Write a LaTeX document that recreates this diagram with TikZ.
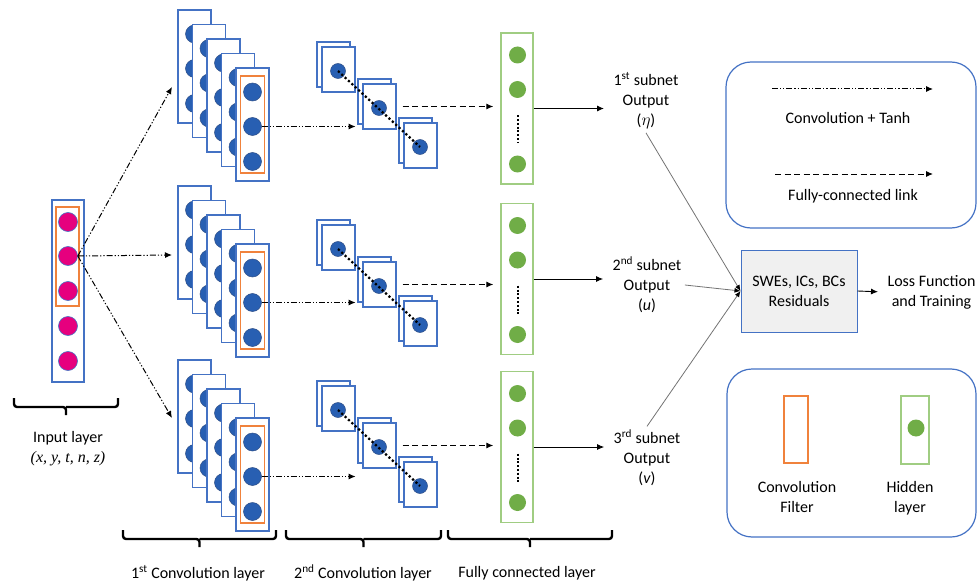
\documentclass[tikz,border=0pt]{standalone}
\usepackage{fontspec}
\setmainfont{Carlito}
\newfontfamily\varfont{Liberation Serif}
\usepackage{tikz}
\usetikzlibrary{positioning,arrows.meta}
\definecolor{rimBlue}{RGB}{68,114,196}
\definecolor{cellBlue}{RGB}{40,95,178}
\definecolor{filterOrange}{RGB}{240,130,60}
\definecolor{hiddenGreen}{RGB}{112,173,71}
\definecolor{hiddenRim}{RGB}{160,205,130}
\definecolor{inputPink}{RGB}{230,0,126}
\definecolor{residualGray}{RGB}{240,240,240}
\tikzset{
		mapBox/.style =      {rectangle,draw=rimBlue,fill=white,line width=1.2pt,inner sep=0pt,minimum width=33pt,minimum height=113pt},
		mapCell/.style =     {circle,draw=rimBlue!70!black,fill=cellBlue,line width=0.5pt,inner sep=0pt,minimum size=18pt},
		filterBox/.style =   {rectangle,draw=filterOrange,line width=1.2pt,inner sep=0pt,minimum width=24pt,minimum height=97pt},
		inputBox/.style =    {rectangle,draw=rimBlue,line width=1.2pt,inner sep=0pt,minimum width=32pt,minimum height=182pt},
		inputCell/.style =   {circle,draw=rimBlue,fill=inputPink,line width=0.6pt,inner sep=0pt,minimum size=19pt},
		hiddenBox/.style =   {rectangle,draw=hiddenRim,line width=1.4pt,inner sep=0pt,minimum width=32pt,minimum height=151pt},
		hiddenCell/.style =  {circle,fill=hiddenGreen,inner sep=0pt,minimum size=17pt},
		residualBox/.style = {rectangle,draw=rimBlue,fill=residualGray,line width=1pt,minimum width=116pt,minimum height=82pt},
		legendBox/.style =   {rectangle,draw=rimBlue,line width=1.2pt,rounded corners=25pt},
		convLink/.style =    {line width=1pt,dash pattern=on 6pt off 2pt on 1.2pt off 2pt on 1.2pt off 2pt,-{Latex[length=7pt,width=6pt]}},
		fcLink/.style =      {line width=1pt,dash pattern=on 6pt off 3.5pt,-{Latex[length=7pt,width=6pt]}},
		outLink/.style =     {line width=0.9pt,-{Latex[length=7pt,width=6pt]}},
		sumLink/.style =     {line width=0.8pt,draw=black!55,-{Latex[length=6pt,width=5pt,color=black]}},
		chainDots/.style =   {line width=2.2pt,dash pattern=on 2.2pt off 2.4pt},
		columnDots/.style =  {line width=2pt,dash pattern=on 2pt off 1.8pt},
		brace/.style =       {line width=2.4pt,rounded corners=3pt},
		node distance=2.3cm
}

\begin{document}
\begin{tikzpicture}[x=1pt,y=-1pt,font=\fontsize{16}{20}\selectfont,every node/.append style={align=center}]
  \useasboundingbox (0,0) rectangle (977,583);

  % Draw input layer
  \node [inputBox] (inp) at (68,291) {};
  \node [filterBox, minimum width=23pt, minimum height=99pt] (inpf) at (67.5,256.5) {};
  \foreach \y [count=\i] in {222,256,291,326,361}
    \node [inputCell] (in\i) at (68,\y) {};

  % Draw first convolution layer, one stack per subnet
  \foreach \r/\top in {1/10, 2/186, 3/360}
  {
    \foreach \k in {0,...,4}
    {
      \pgfmathsetmacro{\xk}{178+14.5*\k}
      \pgfmathsetmacro{\yk}{\top+14.5*\k}
      \node [mapBox] (m\r\k) at (\xk+16.5,\yk+56.5) {};
      \foreach \j/\dy in {1/24, 2/58.5, 3/93.5}
        \node [mapCell] (m\r\k\j) at (\xk+16.5,\yk+\dy) {};
    }
    \node [filterBox] (flt\r) at (m\r4) {};
  }

  % Draw second convolution layer (three pairs of sheets)
  \foreach \r/\cy in {1/71, 2/249, 3/410}
  {
    \foreach \k/\dx/\dy in {1/0/0, 2/41/37, 3/82/76}
    {
      \node [mapBox, minimum height=45pt] (b\r\k) at (333.5+\dx,\cy-6.5+\dy) {};
      \node [mapBox, minimum height=45pt] (q\r\k) at (338.5+\dx,\cy-1.5+\dy) {};
      \node [mapCell, minimum size=15pt] (p\r\k) at (338+\dx,\cy+\dy) {};
    }
    \draw [chainDots] (p\r1.center) -- (p\r3.center);
  }

  % Draw fully connected layers
  \foreach \r/\cy in {1/108.5, 2/279, 3/447}
  {
    \node [hiddenBox] (f\r) at (517,\cy) {};
    \foreach \j/\dy in {1/-53.5, 2/-19, 3/55.5}
      \node [hiddenCell] (h\r\j) at (517.5,\cy+\dy) {};
    \draw [columnDots] ([yshift=-17pt]h\r2.south) -- ([yshift=12pt]h\r3.north);
  }

  % Subnet outputs and residual block
  \node (o1) at (646,101) {1\textsuperscript{st} subnet\\Output\\($\eta$)};
  \node (o2) at (647,285) {2\textsuperscript{nd} subnet\\Output\\(\textit{u})};
  \node (o3) at (647,458) {3\textsuperscript{rd} subnet\\Output\\(\textit{v})};
  \node [residualBox] (swe) at (799,291) {SWEs, ICs, BCs\\Residuals};
  \node [anchor=west] (loss) at (884,292) {Loss Function\\and Training};

  % Links between the layers
  \coordinate (t1) at (172,87);
  \coordinate (t2) at (172,255);
  \coordinate (t3) at (172,418);
  \foreach \r in {1,2,3}
  {
    \draw [convLink] (in2.east) -- (t\r);
    \draw [convLink] (m\r42.east) -- (m\r42.east -| q\r1.east);
    \draw [fcLink, shorten <=6pt, shorten >=7pt] (q\r2.east) -- (q\r2.east -| f\r.west);
    \draw [outLink, shorten >=6pt] (f\r.east) -- (f\r.east -| o\r.west);
  }
  \draw [sumLink] (o1.south) -- (swe.west);
  \draw [sumLink] (o2.east) -- (swe.west);
  \draw [sumLink] (o3.north) -- (swe.west);
  \draw [outLink, shorten >=6pt] (swe.east) -- (loss.west);

  % Legend boxes
  \node [legendBox, minimum width=250pt, minimum height=166pt] (leg1) at (851,145) {};
  \coordinate (ca) at (772,89);
  \coordinate (cb) at (933,89);
  \draw [convLink] (ca) -- (cb);
  \node (lgc) at (848,118) {Convolution + Tanh};
  \coordinate (fa) at (775,174);
  \coordinate (fb) at (933,174);
  \draw [fcLink] (fa) -- (fb);
  \node (lgl) at (853,196) {Fully-connected link};

  \node [legendBox, minimum width=249pt, minimum height=168pt] (leg2) at (851.5,453) {};
  \node [filterBox, minimum height=67pt] (lgf) at (796,429.5) {};
  \node [hiddenBox, minimum width=28pt, minimum height=68pt] (lgh) at (915,430) {};
  \node [hiddenCell] (lgn) at (916,428) {};
  \node (lgft) at (797,497) {Convolution\\Filter};
  \node (lght) at (910,498) {Hidden\\layer};

  % Draw braces and layer names
  \foreach \xa/\xb/\yb in {14/118/398, 123/276/530, 286/441/530, 448/612/530}
  {
    \pgfmathsetmacro{\xm}{(\xa+\xb)/2}
    \draw [brace] (\xa,\yb) -- (\xa,\yb+9) -- (\xm,\yb+9) -- (\xm,\yb+17)
                  (\xm,\yb+9) -- (\xb,\yb+9) -- (\xb,\yb);
  }
  \node (lin) at (68,449) {Input layer\\{\varfont\itshape (x, y, t, n, z)}};
  \node (lc1) at (198,573) {1\textsuperscript{st} Convolution layer};
  \node (lc2) at (363,573) {2\textsuperscript{nd} Convolution layer};
  \node (lfc) at (527,573) {Fully connected layer};

\end{tikzpicture}
\end{document}
